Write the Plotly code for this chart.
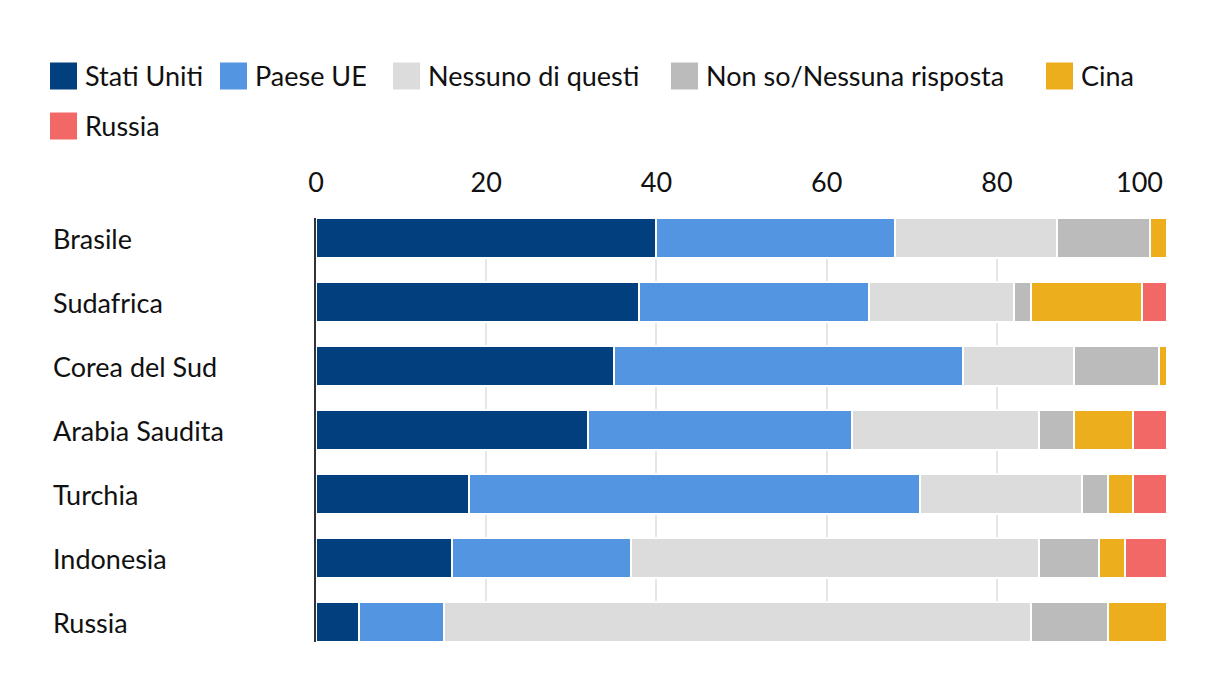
import plotly.graph_objects as go

countries = ["Brasile", "Sudafrica", "Corea del Sud", "Arabia Saudita", "Turchia", "Indonesia", "Russia"]
series_names = ["Stati Uniti", "Paese UE", "Nessuno di questi", "Non so/Nessuna risposta", "Cina", "Russia"]
stati_uniti = [40, 38, 35, 32, 18, 16, 5]
paese_ue = [28, 27, 41, 31, 53, 21, 10]
nessuno = [19, 17, 13, 22, 19, 48, 69]
non_so = [11, 2, 10, 4, 3, 7, 9]
cina = [2, 13, 1, 7, 3, 3, 7]
russia = [0, 3, 0, 4, 4, 5, 0]
tick_vals = [0, 20, 40, 60, 80, 100]
tick_text = ["0", "20", "40", "60", "80", "100" + "&nbsp;" * 8]

colors = ["#023F7F", "#5395E1", "#DCDCDC", "#BBBBBB", "#EDAE1D", "#F26867"]
values = [stati_uniti, paese_ue, nessuno, non_so, cina, russia]

FONT = "Lato"
FS = 27
TXT = "#111111"

W, H = 1220, 694
L, R, T, B = 316, 1168, 218, 642

fig = go.Figure()
for name, vals, col in zip(series_names, values, colors):
    fig.add_trace(go.Bar(
        y=countries, x=vals, name=name, orientation="h",
        marker=dict(color=col, line=dict(color="white", width=2)),
        width=0.625, showlegend=False,
    ))

def px_x(p):
    return (p - L) / (R - L)

def px_y(p):
    return (B - p) / (B - T)

# category labels, left aligned
for c in countries:
    fig.add_annotation(x=px_x(51), xref="paper", y=c, yref="y", text=c,
                       xanchor="left", yanchor="middle", showarrow=False,
                       font=dict(family=FONT, size=FS, color=TXT))

# custom legend
legend_items = [
    (50, 76, series_names[0], colors[0]),
    (220, 76, series_names[1], colors[1]),
    (393, 76, series_names[2], colors[2]),
    (671, 76, series_names[3], colors[3]),
    (1046, 76, series_names[4], colors[4]),
    (50, 126, series_names[5], colors[5]),
]
for sx, cy, name, col in legend_items:
    fig.add_shape(type="rect", xref="paper", yref="paper",
                  x0=px_x(sx), x1=px_x(sx + 27), y0=px_y(cy - 13.5), y1=px_y(cy + 13.5),
                  fillcolor=col, line=dict(width=0))
    fig.add_annotation(x=px_x(sx + 33), xref="paper", y=px_y(cy), yref="paper",
                       text=name, xanchor="left", yanchor="middle", showarrow=False,
                       font=dict(family=FONT, size=FS, color=TXT))

fig.update_layout(
    barmode="stack",
    width=W, height=H,
    margin=dict(l=L, r=W - R, t=T, b=H - B, pad=0, autoexpand=False),
    plot_bgcolor="white", paper_bgcolor="white",
    bargap=0.375,
    xaxis=dict(side="top", range=[0, 100.1], tickvals=tick_vals,
               ticktext=tick_text, automargin=False,
               showgrid=True, gridcolor="#E6E6E6", gridwidth=2,
               zeroline=False, ticks="outside", ticklen=14, tickcolor="rgba(0,0,0,0)",
               tickfont=dict(family=FONT, size=FS, color=TXT), fixedrange=True),
    yaxis=dict(categoryorder="array", categoryarray=countries, autorange=False,
               range=[6.3125, -0.3125], showticklabels=False, showgrid=False,
               zeroline=False, showline=True, linecolor="#333333", linewidth=2,
               layer="above traces", fixedrange=True, automargin=False),
    font=dict(family=FONT, color=TXT),
)

fig.write_html("out.html")
